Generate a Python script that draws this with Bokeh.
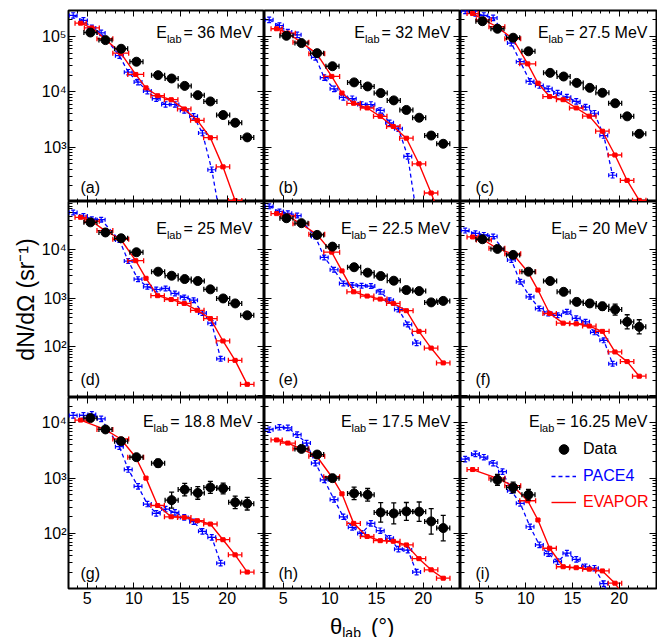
import math

from bokeh.embed import file_html
from bokeh.layouts import column, gridplot
from bokeh.models import (CustomJSTickFormatter, Div, FixedTicker, Label, Legend,
                          LegendItem, LinearAxis, LogAxis, Range1d)
from bokeh.plotting import figure
from bokeh.resources import INLINE

FONT = "Liberation Sans"
BLACK, BLUE, RED = "#000000", "#0000ff", "#ff0000"

# ---- laboratory angles (deg) and angular bin half-widths -------------------
DATA_THETA = [5.35, 6.96, 8.64, 10.28, 12.6, 14.05, 15.45, 16.85, 18.2, 19.57, 20.86, 22.15]
DATA_DTHETA = [0.7, 0.7, 0.7, 0.7, 0.7, 0.7, 0.7, 0.7, 0.7, 0.7, 0.7, 0.7]
PACE_THETA = [3.5, 4.6, 5.5, 6.5, 7.5, 8.45, 9.4, 10.45, 11.45, 12.4, 13.4, 14.4,
              15.4, 16.4, 17.35, 18.35, 19.3]
PACE_DTHETA = [0.42] * len(PACE_THETA)
EVAP_THETA = [4.3, 5.5, 6.9, 8.6, 10.2, 11.3, 12.55, 14.0, 15.4, 16.8, 18.2, 19.55, 20.85, 22.15]
EVAP_DTHETA = [0.6, 0.8, 0.85, 0.85, 0.85, 0.0, 0.72, 0.72, 0.72, 0.72, 0.72, 0.72, 0.72, 0.72]
PACE_ERR = 1.12   # multiplicative statistical uncertainty of the PACE4 points
EVAP_ERR = 1.04   # same for EVAPOR

BEAM_ENERGIES = ["36", "32", "27.5", "25", "22.5", "20", "18.8", "17.5", "16.25"]
PANEL_TAGS = ["(a)", "(b)", "(c)", "(d)", "(e)", "(f)", "(g)", "(h)", "(i)"]

# ---- dN/dOmega (sr^-1) per beam energy ------------------------------------
DATA_A = [1.18e5, 8.6e4, 6.0e4, 3.5e4, 2.0e4, 1.74e4, 1.28e4, 8.7e3, 6.7e3, 3.8e3, 2.76e3, 1.5e3]
PACE_A = [2.4e5, 1.95e5, 1.43e5, 1.16e5, None, 4.5e4, 2.26e4, 1.5e4, 1.03e4, 7.5e3, 5.9e3, 5.9e3,
          4.6e3, 3.6e3, 1.8e3, 3.9e2, 50]
EVAP_A = [1.74e5, 1.43e5, 9.1e4, 5.0e4, 2.06e4, 1.18e4, 8.5e3, 7.2e3, 4.9e3, 3.05e3, 1.48e3,
          4.4e2, 1.08e2, 25]

DATA_B = [1.03e5, 7.6e4, 5.0e4, 2.9e4, 1.48e4, 1.25e4, 9.5e3, 7.0e3, 4.7e3, 3.4e3, 1.62e3, 1.15e3]
PACE_B = [2.0e5, 1.58e5, 1.2e5, 1.07e5, None, 4.2e4, 1.8e4, 1.13e4, 7.9e3, 7.5e3, 5.9e3, 5.9e3,
          4.6e3, 2.75e3, 2.15e3, 6.8e2, 60]
EVAP_B = [1.38e5, 1.15e5, 7.9e4, 4.9e4, 1.9e4, 9.5e3, 6.2e3, 5.1e3, 3.6e3, 2.36e3, 1.45e3,
          5.0e2, 1.48e2, 40]

DATA_C = [1.89e5, 1.38e5, 9.5e4, 5.4e4, 2.2e4, 1.89e4, 1.45e4, 1.18e4, 9.6e3, 6.2e3, 3.6e3, 1.74e3]
PACE_C = [2.9e5, 2.6e5, 2.4e5, 2.17e5, None, 7.6e4, 3.5e4, 1.54e4, 1.3e4, 1.13e4, 9.5e3, 8.0e3,
          6.7e3, 5.3e3, 4.1e3, 1.62e3, 3.1e2]
EVAP_C = [2.6e5, 2.0e5, 1.5e5, 9.1e4, 3.2e4, 1.43e4, 8.2e3, 7.2e3, 5.1e3, 3.63e3, 1.94e3,
          7.2e2, 2.5e2, 1.09e2]

DATA_D = [3.7e4, 2.29e4, 1.74e4, 8.95e3, 3.56e3, 2.94e3, 2.51e3, 2.29e3, 1.54e3, 1.0e3, 7.9e2, 4.5e2]
PACE_D = [5.9e4, 5.0e4, 4.3e4, 4.2e4, None, 1.6e4, 5.9e3, 2.5e3, 1.74e3, 1.53e3, 1.61e3, 1.27e3,
          1.05e3, 9.2e2, 5.0e2, 3.1e2, 57]
EVAP_D = [4.7e4, 3.9e4, 2.5e4, 1.66e4, 6.0e3, 2.6e3, 1.14e3, 9.5e2, 7.9e2, 5.7e2, 3.85e2,
          1.33e2, 53, 17]

DATA_E = [4.5e4, 3.56e4, 2.04e4, 1.17e4, 4.4e3, 3.4e3, 2.9e3, 2.32e3, 1.49e3, 1.42e3, 8.3e2, 8.9e2]
PACE_E = [7.9e4, 6.2e4, 5.7e4, 5.1e4, None, 1.89e4, 7.0e3, 3.9e3, 2.04e3, 1.89e3, 1.83e3, 1.8e3,
          1.37e3, 9.2e2, 5.9e2, 2.9e2, 1.2e2]
EVAP_E = [5.6e4, 5.0e4, 3.45e4, 2.1e4, 9.0e3, 3.7e3, 1.37e3, 1.12e3, 9.7e2, 7.9e2, 5.6e2,
          2.1e2, 95, 47]

DATA_F = [1.66e4, 1.05e4, 7.9e3, 3.56e3, 2.29e3, 1.37e3, 8.5e2, 7.9e2, 6.9e2, 5.9e2, 3.3e2, 2.6e2]
PACE_F = [2.5e4, 2.2e4, 2.04e4, 1.89e4, None, 6.2e3, 2.2e3, 1.08e3, 6.2e2, 4.9e2, 4.5e2, 5.3e2,
          3.9e2, 3.3e2, 2.0e2, 1.37e2, 45]
EVAP_F = [1.85e4, 1.6e4, 1.08e4, 8.3e3, 3.56e3, 1.49e3, 4.9e2, 3.1e2, 3.0e2, 2.7e2, 2.1e2,
          79, 50, 25]

DATA_G = [1.22e4, 7.6e3, 4.65e3, 2.39e3, 1.86e3, 4.0e2, 6.2e2, 5.4e2, 6.8e2, 6.5e2, 3.65e2, 3.45e2]
PACE_G = [1.36e4, 1.36e4, 1.42e4, 1.18e4, None, 3.7e3, 1.43e3, 7.1e2, 3.4e2, 2.3e2, 2.76e2, 2.4e2,
          1.95e2, 1.63e2, 1.09e2, 85, 29]
EVAP_G = [1.12e4, None, 7.6e3, 5.1e3, 2.39e3, 1.0e3, 3.2e2, 2.0e2, 1.95e2, 1.7e2, 1.48e2,
          77, 41, 20]

DATA_H = [None, 3.38e3, 2.67e3, 1.0e3, 5.3e2, 5.0e2, 2.4e2, 2.3e2, 2.5e2, 2.47e2, 1.65e2, 1.25e2]
PACE_H = [7.5e3, 8.3e3, 8.1e3, 6.1e3, 4.3e3, 1.86e3, 9.3e2, 4.1e2, 2.0e2, 1.29e2, 1.0e2, 1.52e2,
          1.12e2, 82, 52, 50, 20]
EVAP_H = [4.9e3, 4.3e3, 3.4e3, 2.49e3, 1.06e3, 5.2e2, 1.52e2, 88, 74, 72, 62, 35, 22, 15.5]

DATA_I = [None, 9.3e2, 6.8e2, 5.0e2, None, None, None, None, None, None, None, None]
PACE_I = [2.2e3, 2.74e3, 2.39e3, 1.86e3, 1.31e3, 5.9e2, 3.5e2, 1.32e2, 62, 43, 31, 44,
          34, 25, 23.5, 12.4, 5]
EVAP_I = [1.43e3, None, 1.0e3, 7.3e2, 3.9e2, 1.75e2, 54, 25, 24, 22.6, 21, 12.6, 6, None]

# multiplicative uncertainties of the measured points
DATA_ERR_A = [1.03] * 12
DATA_ERR_B = [1.03] * 12
DATA_ERR_C = [1.03] * 12
DATA_ERR_D = [1.03] * 12
DATA_ERR_E = [1.03] * 12
DATA_ERR_F = [1.03, 1.03, 1.04, 1.05, 1.06, 1.1, 1.18, 1.18, 1.2, 1.3, 1.4, 1.4]
DATA_ERR_G = [1.04, 1.06, 1.08, 1.1, 1.18, 1.4, 1.3, 1.3, 1.28, 1.25, 1.3, 1.3]
DATA_ERR_H = [1.0, 1.08, 1.08, 1.15, 1.3, 1.3, 1.5, 1.55, 1.45, 1.5, 1.7, 1.7]
DATA_ERR_I = [1.0, 1.25, 1.25, 1.25, 1.0, 1.0, 1.0, 1.0, 1.0, 1.0, 1.0, 1.0]

PANELS = [
    (DATA_A, DATA_ERR_A, PACE_A, EVAP_A), (DATA_B, DATA_ERR_B, PACE_B, EVAP_B),
    (DATA_C, DATA_ERR_C, PACE_C, EVAP_C), (DATA_D, DATA_ERR_D, PACE_D, EVAP_D),
    (DATA_E, DATA_ERR_E, PACE_E, EVAP_E), (DATA_F, DATA_ERR_F, PACE_F, EVAP_F),
    (DATA_G, DATA_ERR_G, PACE_G, EVAP_G), (DATA_H, DATA_ERR_H, PACE_H, EVAP_H),
    (DATA_I, DATA_ERR_I, PACE_I, EVAP_I),
]

# ---- layout -----------------------------------------------------------------
ROW_Y = [(104, 2.95e5), (9.1, 9.95e4), (10.1, 2.87e4)]
COL_W, COL_L, COL_R = [264, 196, 197], [68, 0, 0], [0, 0, 1]
ROW_H, ROW_T, ROW_B = [201, 196, 212], [10, 0, 0], [0, 0, 21]
XTITLE_H = 28
E_BASE = [22, 27, 24]
E_RIGHT = [12, 10, 9]
TAG_DX = [12, 14, 15]
TAG_DY = [14, 18, 15]

X_MAJOR = [5, 10, 15, 20]
X_MINOR = [t for t in range(3, 25) if t not in X_MAJOR]
Y_MAJOR = [10.0 ** n for n in range(0, 7)]
Y_MINOR = [k * 10.0 ** n for n in range(0, 7) for k in range(2, 10)]

ADV = {"0": .556, "1": .556, "2": .556, "3": .556, "4": .556, "5": .556, "6": .556,
       "7": .556, "8": .556, "9": .556, ".": .278, " ": .278, "=": .584, "M": .833,
       "e": .556, "V": .667, "E": .667, "l": .222, "a": .556, "b": .556}


def text_width(s, size):
    return size * sum(ADV.get(ch, 0.556) for ch in s)


def sup_formatter():
    return CustomJSTickFormatter(code="""
        const s = {"0":"\u2070","1":"\u00b9","2":"\u00b2","3":"\u00b3","4":"\u2074",
                   "5":"\u2075","6":"\u2076","7":"\u2077","8":"\u2078","9":"\u2079","-":"\u207b"};
        const e = Math.round(Math.log10(tick));
        return "10" + String(e).split("").map(c => s[c]).join("");
    """)


def plain_ticks(ax, major_len, minor_len):
    ax.axis_line_color = None
    ax.major_tick_in = major_len
    ax.major_tick_out = 0
    ax.minor_tick_in = minor_len
    ax.minor_tick_out = 0
    ax.major_tick_line_color = BLACK
    ax.minor_tick_line_color = BLACK
    ax.major_tick_line_width = 1
    ax.minor_tick_line_width = 1


def labelled_axis(ax, ticker, major_len, minor_len, standoff):
    ax.ticker = ticker
    plain_ticks(ax, major_len, minor_len)
    ax.major_label_text_font = FONT
    ax.major_label_text_font_size = "16px"
    ax.major_label_text_color = BLACK
    ax.major_label_standoff = standoff


def bare_ticks(p, cls, side, major, minor, major_len, minor_len):
    """Inward tick marks without any labels (two axes: long and short ticks)."""
    for ticks, ln in ((major, major_len), (minor, minor_len)):
        ax = cls(ticker=FixedTicker(ticks=[], minor_ticks=ticks))
        plain_ticks(ax, 0, ln)
        ax.major_label_standoff = 0
        p.add_layout(ax, side)


def draw_errors(p, pts, color, cap, lw):
    hx = [(x, dx, y) for x, dx, y, f in pts if dx > 0]
    if hx:
        xl = [x - dx for x, dx, y in hx]
        xh = [x + dx for x, dx, y in hx]
        yy = [y for x, dx, y in hx]
        p.segment(x0=xl, y0=yy, x1=xh, y1=yy, line_color=color, line_width=lw)
        p.scatter(x=xl + xh, y=yy + yy, marker="dash", angle=math.pi / 2, size=cap,
                  line_color=color, line_width=lw)
    vy = [(x, y, f) for x, dx, y, f in pts if f > 1.0]
    if vy:
        xs = [x for x, y, f in vy]
        lo = [y / f for x, y, f in vy]
        hi = [y * f for x, y, f in vy]
        p.segment(x0=xs, y0=lo, x1=xs, y1=hi, line_color=color, line_width=lw)
        p.scatter(x=xs + xs, y=lo + hi, marker="dash", size=cap, line_color=color, line_width=lw)


def make_panel(i):
    r, c = divmod(i, 3)
    ylo, yhi = ROW_Y[r]
    data, data_err, pace, evap = PANELS[i]
    p = figure(width=COL_W[c], height=ROW_H[r], x_range=Range1d(3, 24),
               y_range=Range1d(ylo, yhi), y_axis_type="log", title=None,
               output_backend="svg", toolbar_location=None,
               min_border_left=COL_L[c], min_border_right=COL_R[c],
               min_border_top=ROW_T[r], min_border_bottom=ROW_B[r])
    p.outline_line_color = BLACK
    p.outline_line_width = 2
    p.xgrid.visible = False
    p.ygrid.visible = False
    p.background_fill_color = "white"
    p.border_fill_color = "white"

    xb, yl = p.xaxis[0], p.yaxis[0]
    if r == 2:
        labelled_axis(xb, FixedTicker(ticks=X_MAJOR, minor_ticks=X_MINOR), 6, 3, 3)
    else:
        xb.visible = False
        bare_ticks(p, LinearAxis, "below", X_MAJOR, X_MINOR, 6, 3)
    if c == 0:
        shown = [t for t in Y_MAJOR if ylo * 1.2 < t < yhi]
        labelled_axis(yl, FixedTicker(ticks=shown, minor_ticks=Y_MINOR), 7, 4, 2)
        yl.formatter = sup_formatter()
    else:
        yl.visible = False
        bare_ticks(p, LogAxis, "left", Y_MAJOR, Y_MINOR, 7, 4)
    bare_ticks(p, LinearAxis, "above", X_MAJOR, X_MINOR, 6, 3)
    bare_ticks(p, LogAxis, "right", Y_MAJOR, Y_MINOR, 7, 4)

    # PACE4
    pts = [(x, dx, y, PACE_ERR) for x, dx, y in zip(PACE_THETA, PACE_DTHETA, pace) if y is not None]
    pace_r = p.line([q[0] for q in pts], [q[2] for q in pts], line_color=BLUE,
                    line_width=1.3, line_dash="4 3")
    draw_errors(p, pts, BLUE, 4, 1.2)

    # EVAPOR
    pts = [(x, dx, y, EVAP_ERR) for x, dx, y in zip(EVAP_THETA, EVAP_DTHETA, evap) if y is not None]
    evap_r = p.line([q[0] for q in pts], [q[2] for q in pts], line_color=RED, line_width=1.4)
    draw_errors(p, pts, RED, 5, 1.3)
    p.scatter([q[0] for q in pts], [q[2] for q in pts], marker="square", size=4,
              fill_color=RED, line_color=RED)

    # measured points
    pts = [(x, dx, y, f) for x, dx, y, f in zip(DATA_THETA, DATA_DTHETA, data, data_err)
           if y is not None]
    draw_errors(p, pts, BLACK, 5, 1.3)
    data_r = p.scatter([q[0] for q in pts], [q[2] for q in pts], marker="circle", size=9,
                       fill_color=BLACK, line_color=BLACK)

    # beam-energy caption  E_lab = ... MeV
    tail = "= %s MeV" % BEAM_ENERGIES[i]
    w_tail = text_width(tail, 16)
    w_lab = text_width("lab", 11)
    dx0 = -E_RIGHT[c]
    common = dict(x=24, y=yhi, text_font=FONT, text_color=BLACK, text_baseline="alphabetic",
                  text_align="right")
    p.add_layout(Label(text=tail, x_offset=dx0, y_offset=-E_BASE[r], text_font_size="16px", **common))
    p.add_layout(Label(text="lab", x_offset=dx0 - w_tail - 2, y_offset=-E_BASE[r] - 6,
                       text_font_size="11px", **common))
    p.add_layout(Label(text="E", x_offset=dx0 - w_tail - 2 - w_lab, y_offset=-E_BASE[r],
                       text_font_size="16px", **common))

    p.add_layout(Label(x=3, y=ylo, x_offset=TAG_DX[c], y_offset=TAG_DY[r], text=PANEL_TAGS[i],
                       text_font=FONT, text_font_size="16px", text_color=BLACK,
                       text_baseline="alphabetic", text_align="left"))
    return p, data_r, pace_r, evap_r


panels = [make_panel(i) for i in range(9)]
figs = [q[0] for q in panels]

# y-axis title on the middle-left panel
yax = figs[3].yaxis[0]
yax.axis_label = "dN/d\u03a9 (sr\u207b\u00b9)"
yax.axis_label_text_font = FONT
yax.axis_label_text_font_size = "23px"
yax.axis_label_text_font_style = "normal"
yax.axis_label_text_color = BLACK
yax.axis_label_standoff = 0

# legend in the last panel
pi_, data_r, pace_r, evap_r = panels[8]
for label, rend, color, bottom in [("Data", data_r, BLACK, 127), ("PACE4", pace_r, BLUE, 100),
                                   ("EVAPOR", evap_r, RED, 74)]:
    lg = Legend(items=[LegendItem(label=label, renderers=[rend])], location=(91, bottom),
                padding=0, margin=0, spacing=0, glyph_width=25, glyph_height=24,
                label_height=24, label_standoff=7, border_line_alpha=0,
                background_fill_alpha=0, label_text_font=FONT, label_text_font_size="16px",
                label_text_color=color)
    pi_.add_layout(lg)

grid = gridplot([figs[0:3], figs[3:6], figs[6:9]], toolbar_location=None)

# common x-axis title:  theta_lab (deg)
x_title = Div(width=sum(COL_W), height=XTITLE_H, text=(
    '<div style="position:relative;width:%dpx;height:%dpx;">'
    '<div style="position:absolute;left:325px;top:0px;white-space:nowrap;'
    "font-family:'Liberation Sans';font-size:22px;line-height:26px;color:#000;\">"
    '\u03b8<span style="position:relative;top:4px;font-size:14px;line-height:14px;">lab</span>'
    '<span style="margin-left:10px;">(\u00b0)</span></div></div>') % (sum(COL_W), XTITLE_H))

page = column(grid, x_title)

open("out.html", "w").write(file_html(page, INLINE))
